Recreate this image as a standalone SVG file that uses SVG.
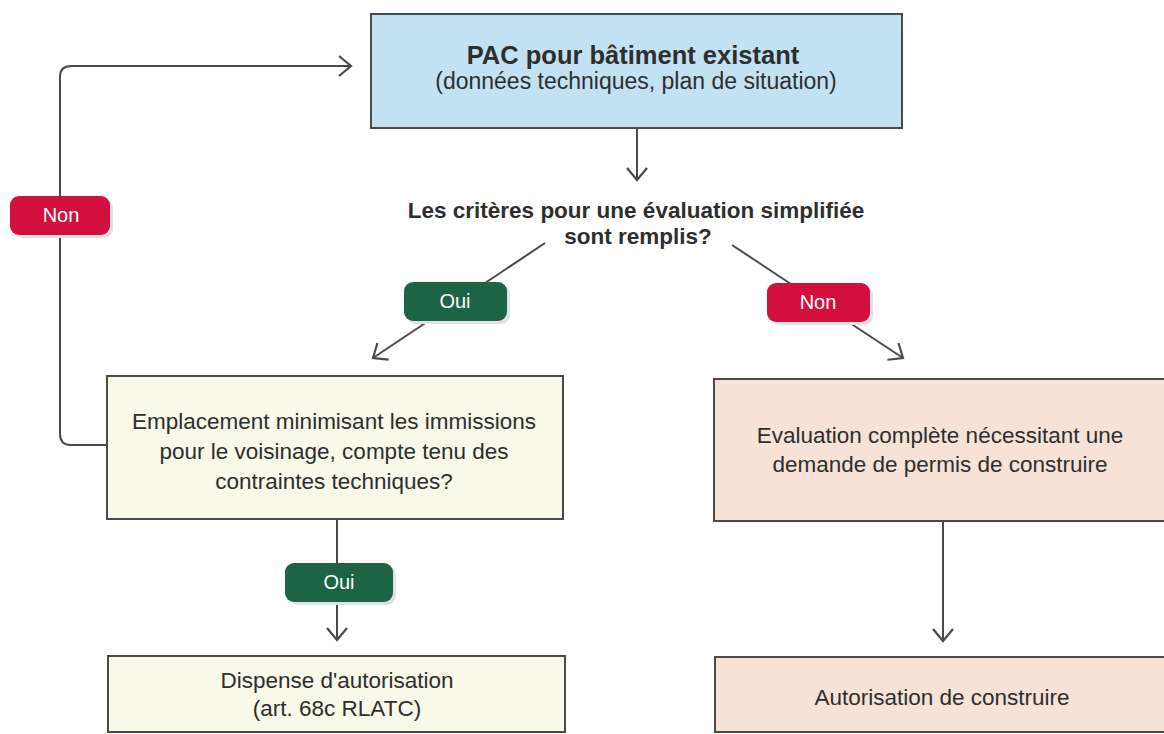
<svg xmlns="http://www.w3.org/2000/svg" width="1164" height="734" viewBox="0 0 1164 734">
  <style>
    .box { stroke: #4a4a4a; stroke-width: 2; }
    .blue { fill: #c2e2f4; }
    .yellow { fill: #f8f9e8; }
    .peach { fill: #f6e2d6; }
    .t { font-family: "Liberation Sans", Arial, sans-serif; fill: #2e2e2e; text-anchor: middle; font-size: 22.5px; }
    .b { font-weight: bold; }
    .title { font-size: 25.5px; }
    .sub { font-size: 23px; }
    .conn { stroke: #4a4a4a; stroke-width: 2; fill: none; }
    .badge-t { font-family: "Liberation Sans", Arial, sans-serif; fill: #fff; text-anchor: middle; font-size: 20px; }
    .red { fill: #d3103d; }
    .green { fill: #1c6445; }
    .shadow { fill: #e2e2e2; }
  </style>
  <defs>
    <marker id="arr" markerUnits="userSpaceOnUse" markerWidth="18" markerHeight="26" viewBox="0 0 18 26" refX="15" refY="13" orient="auto">
      <path d="M3,3 L15,13 L3,23" fill="none" stroke="#4a4a4a" stroke-width="2.2"/>
    </marker>
  </defs>

  <rect width="1164" height="734" fill="#ffffff"/>

  <g id="connectors">
    <path class="conn" d="M637,129 L637,180" marker-end="url(#arr)"/>
    <path class="conn" d="M545,243 L373,358" marker-end="url(#arr)"/>
    <path class="conn" d="M732,245 L903,358" marker-end="url(#arr)"/>
    <path class="conn" d="M337,520 L337,640" marker-end="url(#arr)"/>
    <path class="conn" d="M943,522 L943,641" marker-end="url(#arr)"/>
    <path class="conn" d="M107,445 L71,445 Q60,445 60,434 L60,77 Q60,66 71,66 L351,66" marker-end="url(#arr)"/>
  </g>

  <g id="node-pac">
    <rect class="box blue" x="371" y="14" width="531" height="114"/>
    <text class="t b title" x="633" y="64">PAC pour bâtiment existant</text>
    <text class="t sub" x="636" y="89">(données techniques, plan de situation)</text>
  </g>

  <g id="node-question">
    <text class="t b" x="636" y="218">Les critères pour une évaluation simplifiée</text>
    <text class="t b" x="638" y="244">sont remplis?</text>
  </g>

  <g id="node-emplacement">
    <rect class="box yellow" x="107" y="376" width="456" height="143"/>
    <text class="t" x="334" y="429">Emplacement minimisant les immissions</text>
    <text class="t" x="334" y="459">pour le voisinage, compte tenu des</text>
    <text class="t" x="334" y="489">contraintes techniques?</text>
  </g>

  <g id="node-evaluation">
    <rect class="box peach" x="714" y="379" width="460" height="142"/>
    <text class="t" x="940" y="443">Evaluation complète nécessitant une</text>
    <text class="t" x="940" y="472">demande de permis de construire</text>
  </g>

  <g id="node-dispense">
    <rect class="box yellow" x="108" y="656" width="457" height="76"/>
    <text class="t" x="337" y="688">Dispense d'autorisation</text>
    <text class="t" x="337" y="716">(art. 68c RLATC)</text>
  </g>

  <g id="node-autorisation">
    <rect class="box peach" x="715" y="657" width="459" height="75"/>
    <text class="t" x="942" y="705">Autorisation de construire</text>
  </g>

  <g id="badge-non-left">
    <rect class="shadow" x="13" y="199" width="100" height="39" rx="9"/>
    <rect class="red" x="10" y="196" width="100" height="39" rx="9"/>
    <text class="badge-t" x="61" y="222">Non</text>
  </g>

  <g id="badge-oui-top">
    <rect class="shadow" x="407" y="285" width="103" height="39" rx="9"/>
    <rect class="green" x="404" y="282" width="103" height="39" rx="9"/>
    <text class="badge-t" x="455" y="308">Oui</text>
  </g>

  <g id="badge-non-right">
    <rect class="shadow" x="770" y="286" width="103" height="39" rx="9"/>
    <rect class="red" x="767" y="283" width="103" height="39" rx="9"/>
    <text class="badge-t" x="818" y="309">Non</text>
  </g>

  <g id="badge-oui-bottom">
    <rect class="shadow" x="288" y="566" width="108" height="39" rx="9"/>
    <rect class="green" x="285" y="563" width="108" height="39" rx="9"/>
    <text class="badge-t" x="339" y="589">Oui</text>
  </g>
</svg>
